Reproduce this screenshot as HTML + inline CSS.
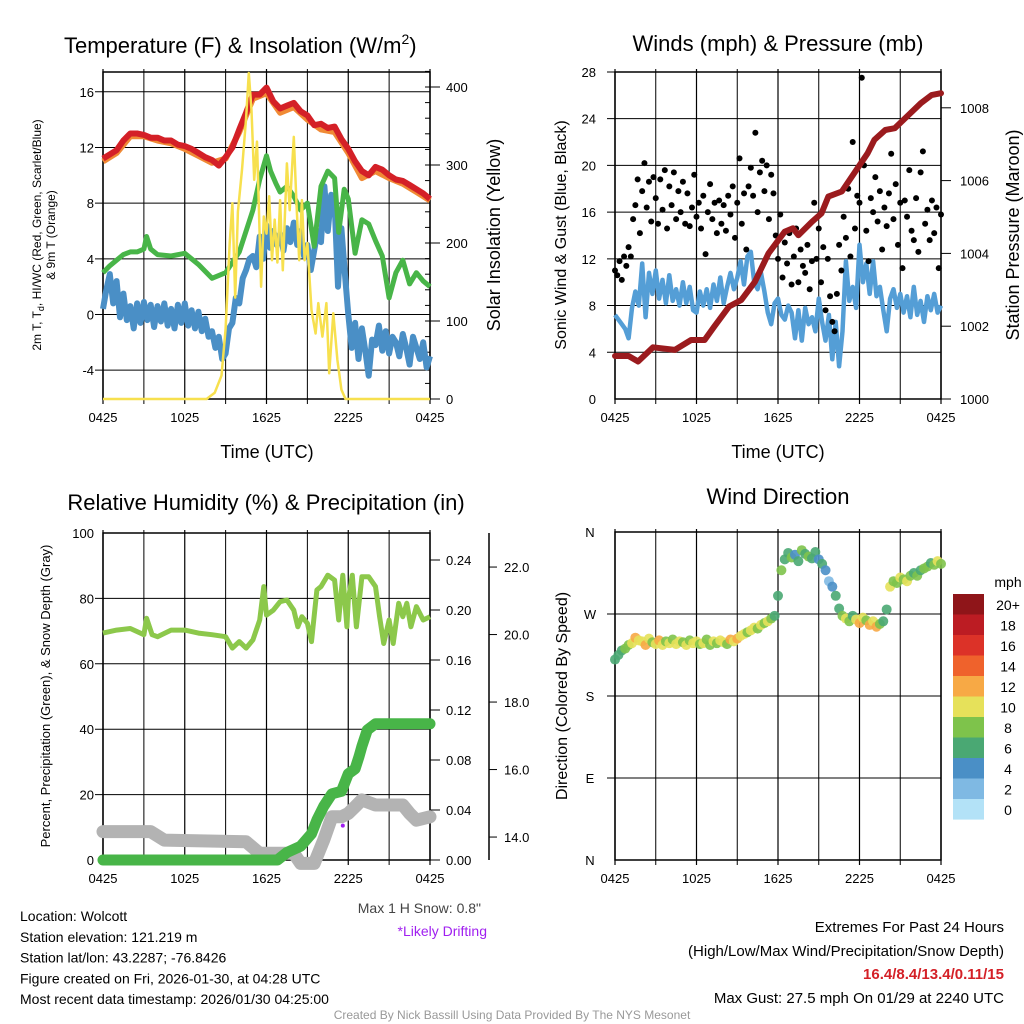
<!DOCTYPE html>
<html><head><meta charset="utf-8"><style>
html,body{margin:0;padding:0;background:#fff;}
svg{display:block;font-family:"Liberation Sans",sans-serif;}
</style></head><body>
<svg id="chart" width="1024" height="1024" viewBox="0 0 1024 1024" xmlns="http://www.w3.org/2000/svg"></svg>
<script>
// ---------- DATA ----------
const tempRed = [11.2,11.5,11.8,12.5,13.0,13.0,12.9,12.7,12.7,12.5,12.5,12.2,12.1,11.9,11.6,11.3,11.1,10.7,11.3,12.0,13.3,14.5,15.8,15.8,16.3,15.3,14.8,15.0,15.2,14.6,14.3,13.6,13.7,13.4,13.5,12.6,11.9,11.0,10.3,10.0,10.6,10.4,10.0,9.7,9.6,9.3,9.0,8.7,8.3];
const tempOrange = [11.0,11.6,12.8,12.8,12.5,12.3,11.9,11.4,10.9,11.2,13.1,15.5,15.9,14.5,14.9,14.0,13.3,13.1,11.6,9.8,10.3,9.8,9.4,8.8,8.2];
const greenT = [0,0.5,1,1.5,2,2.5,3,3.2,3.5,4,5,6,7,8,9,10,11,11.5,12,12.3,12.7,13,13.5,14,14.5,15,15.5,16,16.5,17,17.3,17.7,18,18.5,19,19.5,20,20.5,21,21.5,22,22.5,23,23.5,24];
const greenV = [3.0,3.5,3.9,4.3,4.5,4.5,4.7,5.6,4.7,4.3,4.2,4.4,3.6,2.6,3.0,4.5,7.5,9.7,11.4,10.3,9.4,8.8,9.2,8.5,7.5,8.0,4.9,9.2,10.3,9.8,5.9,9.0,8.3,4.4,6.8,6.5,5.3,4.2,1.2,3.0,3.9,2.2,3.0,2.4,2.0];
const blueV = [0.4,1.8,2.9,0.8,2.4,-0.2,1.5,-0.4,0.6,-1.0,0.8,-0.6,0.9,-0.4,0.7,-0.9,0.6,-0.5,0.8,-0.8,0.4,-1.0,0.7,-0.6,0.8,-0.8,0.3,-1.0,0.2,-1.2,-0.3,-1.6,-1.2,-2.4,-1.6,-3.2,-2.8,-1.0,-0.6,1.2,0.8,2.6,3.2,4.0,4.2,3.4,5.6,4.0,6.4,4.8,6.0,5.0,5.8,4.6,6.2,5.2,6.6,5.0,6.0,4.2,5.0,3.2,4.6,6.0,5.2,9.2,6.0,8.6,8.0,2.0,6.2,3.0,0.0,-2.4,-0.6,-3.2,-1.0,-2.6,-4.4,-1.8,-2.2,-0.8,-2.6,-1.2,-2.8,-1.6,-2.0,-3.0,-1.4,-2.4,-3.6,-1.6,-2.4,-3.2,-2.0,-3.8,-3.0];
const solarT = [0,7.6,8.2,8.7,9.0,9.3,9.5,9.7,9.9,10.2,10.5,10.7,10.9,11.1,11.3,11.6,11.8,12.0,12.2,12.4,12.6,12.8,13.0,13.2,13.5,13.7,14.0,14.2,14.4,14.6,14.8,15.0,15.3,15.6,15.8,16.1,16.4,16.6,16.9,17.2,17.5,17.8,24];
const solarV = [0,0,8,30,90,200,251,130,240,294,360,418,370,281,330,144,234,212,260,178,230,175,255,165,302,242,336,250,178,255,178,200,114,84,123,80,123,33,110,50,12,0,0];
const windV = [7.2,6.8,6.4,6.0,5.2,7.8,9.2,8.0,11.6,7.0,10.8,9.0,11.0,8.6,10.2,8.2,10.6,8.4,9.4,8.0,10.0,8.2,9.6,7.6,7.4,9.2,8.0,9.4,7.8,9.8,8.4,10.4,8.2,9.6,10.8,9.4,10.4,11.8,9.8,12.2,12.6,10.0,9.4,10.8,9.2,7.4,6.4,8.2,8.6,7.2,6.8,8.0,7.4,5.2,7.6,5.0,7.8,6.4,7.0,5.8,8.6,6.6,5.0,7.2,3.4,6.6,2.8,5.8,11.8,8.4,9.6,7.8,13.2,10.0,11.6,9.0,11.8,8.8,9.6,7.6,5.8,8.6,9.4,7.8,9.0,7.4,8.8,7.0,9.6,7.2,8.4,6.6,8.8,7.6,9.0,7.4,8.0];
const gustV = [11.0,10.6,11.8,10.2,12.2,11.4,13.0,12.2,15.4,16.6,18.8,14.2,17.8,20.2,16.4,18.6,15.2,19.0,17.2,15.0,18.8,16.2,19.6,14.6,18.2,16.6,19.4,15.4,17.8,16.0,18.6,15.0,17.6,14.8,16.4,19.2,15.6,16.8,14.6,17.4,12.4,16.0,18.4,15.4,16.8,14.2,17.0,15.0,16.6,14.4,17.4,15.8,18.2,13.8,16.8,20.6,15.0,17.6,12.8,18.2,19.8,17.4,22.8,16.0,19.4,20.4,17.8,20.0,15.4,19.2,17.6,14.0,12.0,15.8,10.4,13.4,11.6,14.2,9.8,12.2,14.6,10.0,12.8,11.4,10.8,13.2,9.4,11.8,16.8,12.0,14.6,10.0,13.0,7.6,12.0,8.8,6.6,5.8,9.0,13.2,11.0,15.6,13.8,18.0,12.2,22.0,14.6,17.4,16.8,27.5,20.0,14.4,11.8,17.2,16.0,19.0,15.2,17.8,12.8,16.4,14.8,17.6,21.0,15.4,18.4,13.2,16.8,11.2,17.0,15.6,19.6,14.4,13.6,17.2,12.6,19.4,21.2,15.0,16.2,13.6,17.0,14.2,16.4,11.2,15.8];
const pressT = [0,1.0,1.7,2.8,4.4,5.6,6.6,7.3,8.4,9.3,10.3,11.3,12.5,13.1,13.5,14.5,15.2,15.7,16.7,17.6,18.6,19.1,19.9,20.6,21.6,22.5,23.3,24];
const pressV = [1001.18,1001.18,1001.03,1001.42,1001.35,1001.62,1001.62,1001.99,1002.54,1002.72,1003.22,1004.0,1004.6,1004.69,1004.5,1004.87,1005.1,1005.56,1005.7,1006.2,1006.75,1007.12,1007.39,1007.44,1007.8,1008.12,1008.35,1008.4];
const rhT = [0,1,2,3,3.2,3.6,4,5,6,7,8,9,9.5,10,10.5,11,11.5,11.8,12,12.5,13,13.5,14,14.3,14.6,15,15.3,15.7,16,16.5,17,17.3,17.6,17.9,18,18.3,18.6,19,19.5,20,20.3,20.6,21,21.3,21.7,22,22.3,22.6,23,23.5,24];
const rhV = [69.4,70.3,70.8,68.9,73.9,68.9,68.3,70.3,70.3,69.4,68.9,68.3,64.8,66.8,64.8,67.3,73.4,83.6,74.9,76.4,79.0,79.5,76.4,71.3,74.4,72.4,66.8,82.6,83.6,87.1,85.6,73.4,87.1,71.3,79.5,87.1,71.3,86.6,86.6,83.6,74.4,66.2,73.4,66.2,78.5,74.4,78.5,71.3,77.5,73.4,74.4];
const precipT = [0,12.8,13.5,14.5,15.3,15.7,16.2,16.8,17.5,18.0,18.5,18.8,19.0,19.4,20.0,24];
const precipV = [0,0,0.006,0.011,0.021,0.032,0.043,0.053,0.055,0.069,0.073,0.083,0.091,0.104,0.109,0.109];
const snowT = [0,3.5,4.5,10.5,11.5,14.0,14.5,15.5,16.2,16.8,17.5,18.0,18.5,19.0,20.0,22.0,22.5,23.0,24];
const snowV = [14.16,14.16,13.91,13.86,13.52,13.52,13.22,13.22,13.91,14.6,14.6,14.7,14.9,15.1,14.95,14.95,14.7,14.5,14.6];
const driftT = [17.6];
const driftV = [14.34];
const dirV = [220,225,230,232,236,238,244,241,240,236,243,239,237,241,236,240,238,242,237,240,239,236,241,238,240,237,238,242,236,240,238,241,239,237,242,240,243,246,248,250,252,255,254,258,260,262,265,268,290,318,330,337,332,335,328,340,336,333,331,338,330,325,318,306,300,290,276,268,265,262,268,264,260,266,263,258,262,256,259,262,275,300,306,304,310,308,306,312,315,312,318,320,322,326,324,328,325];
const dirSpd = [7,7,7.5,8,9,10.5,12.5,11,10.5,12.6,10.5,9,11,12.5,10.8,9.5,10.5,8.5,11,10.3,9.2,10.5,8.6,10.2,11,8.8,10.4,9,8.6,10.8,9.4,11.2,10.5,9,12.5,11,12.6,10.5,11,9,10.4,11,9.5,10.6,8.5,10.2,9,6.8,7,8.5,6.5,7.2,8.6,5.5,6.8,8.4,7.2,9,6.6,7.5,5,6.8,5.5,3.5,4.8,7,6.5,8.5,10.5,9,7.5,10.8,12.5,11,8.5,12.4,10,12.6,9,7,6.5,10.5,8.5,9,11,9,10.5,8.5,7,8.8,6.5,9.5,8.5,7.5,9,11,8.5];
const xTickLabels = ["0425","1025","1625","2225","0425"];
const tempTicks = [16,12,8,4,0,-4];
const solarTicks = [0,100,200,300,400];
const windTicks = [0,4,8,12,16,20,24,28];
const pressTicks = [1000,1002,1004,1006,1008];
const rhTicks = [0,20,40,60,80,100];
const precipTicks = [0.00,0.04,0.08,0.12,0.16,0.20,0.24];
const snowTicks = [14,16,18,20,22];
const dirTicks = [0,90,180,270,360];
const dirLabels = ["N","E","S","W","N"];
const cbLabels = ["20+","18","16","14","12","10","8","6","4","2","0"];
const cbColors = ["#8f1519","#bc1c23","#dc3228","#ef622c","#f7a945","#e6e15a","#7ec34b","#4aa873","#4a8fc6","#7fb9e3","#b3e2f7"];

// ---------- HELPERS ----------
const NS="http://www.w3.org/2000/svg";
const svg=document.getElementById('chart');
function el(tag,attrs,parent){const e=document.createElementNS(NS,tag);for(const k in attrs)e.setAttribute(k,attrs[k]);(parent||svg).appendChild(e);return e;}
function txt(s,x,y,size,anchor,fill,extra){const t=el('text',Object.assign({x:x,y:y,'font-size':size,'text-anchor':anchor||'start',fill:fill||'#000'},extra||{}));t.textContent=s;return t;}
function grp(name){const g=el('g',{});return g;}
function pathFrom(ts,vs,fx,fy){return ts.map((t,i)=>(i?'L':'M')+fx(t).toFixed(1)+','+fy(vs[i]).toFixed(1)).join('');}
function spdColor(s){let i=Math.min(10,Math.floor(s/2));return cbColors[10-i];}

function frame(P,name){
  const g=grp(name+'-frame');
  for(let h=0;h<=24;h+=3){const x=P.x(h);const l=el('line',{x1:x,x2:x,y1:P.y0-3,y2:P.y1+5,stroke:'#000','stroke-width':(h%6?1:1.2)},g);}
  xTickLabels.forEach((s,i)=>{const t=txt(s,P.x(i*6),P.y1+23,13,'middle','#000',{},g);});
  const r=el('rect',{x:P.x0,y:P.y0,width:P.x1-P.x0,height:P.y1-P.y0,fill:'none',stroke:'#000','stroke-width':1.5},g);
  
  return g;
}
function hgrid(P,vals,fy,g,x0ext){vals.forEach(v=>{const y=fy(v);const l=el('line',{x1:P.x0-(x0ext||8),x2:P.x1,y1:y,y2:y,stroke:'#000','stroke-width':1},g);});}

// ---------- PANEL 1 ----------
const P1={x0:103,x1:430,y0:72,y1:399};P1.x=h=>P1.x0+h/24*(P1.x1-P1.x0);
const t1y=v=>314.5-v*13.92; const s1y=w=>399-w*0.78;
const g1=frame(P1,'temperature-panel');
hgrid(P1,tempTicks,t1y,g1);
tempTicks.forEach(v=>{const t=txt(String(v),94,t1y(v)+5,13,'end');});
solarTicks.forEach(v=>{const y=s1y(v);const l=el('line',{x1:P1.x1,x2:P1.x1+10,y1:y,y2:y,stroke:'#000'});const t=txt(String(v),446,y+5,13,'start');});
for(let w=20;w<424;w+=20){const y=s1y(w);const l=el('line',{x1:P1.x1-5,x2:P1.x1,y1:y,y2:y,stroke:'#000'});}
const q=i=>i*0.25, hh=i=>i*0.5, hr=i=>i;
let p=el('path',{d:pathFrom(blueV.map((v,i)=>q(i)),blueV,P1.x,t1y),fill:'none',stroke:'#4a8fc6','stroke-width':6,'stroke-linejoin':'round'});

p=el('path',{d:pathFrom(greenT,greenV,P1.x,t1y),fill:'none',stroke:'#48b548','stroke-width':5,'stroke-linejoin':'round'});

p=el('path',{d:pathFrom(tempOrange.map((v,i)=>hr(i)),tempOrange,P1.x,t1y),fill:'none',stroke:'#f08a35','stroke-width':6,'stroke-linejoin':'round'});

p=el('path',{d:pathFrom(tempRed.map((v,i)=>hh(i)),tempRed,P1.x,t1y),fill:'none',stroke:'#d42027','stroke-width':6,'stroke-linejoin':'round'});

p=el('path',{d:pathFrom(solarT,solarV,P1.x,s1y),fill:'none',stroke:'#f7e04e','stroke-width':2.5,'stroke-linejoin':'round'});

let t=txt('Temperature (F) & Insolation (W/m',64,53,22,'start');
const sup=el('tspan',{'font-size':14,dy:-9},t);sup.textContent='2';const cl=el('tspan',{dy:9},t);cl.textContent=')';
t=txt('Time (UTC)',267,458,18,'middle');
t=txt('2m T, T',0,0,12,'middle','#000',{transform:'translate(41,235) rotate(-90)'});
const sub=el('tspan',{'font-size':9,dy:3},t);sub.textContent='d';const rest=el('tspan',{dy:-3},t);rest.textContent=', HI/WC (Red, Green, Scarlet/Blue)';
t=txt('& 9m T (Orange)',0,0,12,'middle','#000',{transform:'translate(55,235) rotate(-90)'});
t=txt('Solar Insolation (Yellow)',0,0,18,'middle','#000',{transform:'translate(500,235) rotate(-90)'});

// ---------- PANEL 2 ----------
const P2={x0:615,x1:941,y0:72,y1:399};P2.x=h=>P2.x0+h/24*(P2.x1-P2.x0);
const w2y=v=>399-v*11.68; const p2y=v=>399-(v-1000)*36.4;
const g2=frame(P2,'winds-panel');
hgrid(P2,windTicks.slice(1),w2y,g2);
windTicks.forEach(v=>{const t=txt(String(v),596,w2y(v)+5,13,'end');});
pressTicks.forEach(v=>{const y=p2y(v);const l=el('line',{x1:P2.x1,x2:P2.x1+10,y1:y,y2:y,stroke:'#000'});const t=txt(String(v),960,y+5,13,'start');});
p=el('path',{d:pathFrom(windV.map((v,i)=>q(i)),windV,P2.x,w2y),fill:'none',stroke:'#549ed6','stroke-width':4.5,'stroke-linejoin':'round'});

const gg=grp('gust-points');
gustV.forEach((v,i)=>{const c=el('circle',{cx:P2.x(i/6),cy:w2y(v),r:3,fill:'#000'},gg);});
p=el('path',{d:pathFrom(pressT,pressV,P2.x,p2y),fill:'none',stroke:'#9b1b1e','stroke-width':6,'stroke-linejoin':'round','stroke-linecap':'round'});

t=txt('Winds (mph) & Pressure (mb)',778,51,22,'middle');
t=txt('Time (UTC)',778,458,18,'middle');
t=txt('Sonic Wind & Gust (Blue, Black)',0,0,16,'middle','#000',{transform:'translate(566,235) rotate(-90)'});
t=txt('Station Pressure (Maroon)',0,0,18,'middle','#000',{transform:'translate(1019,235) rotate(-90)'});

// ---------- PANEL 3 ----------
const P3={x0:103,x1:430,y0:533,y1:860};P3.x=h=>P3.x0+h/24*(P3.x1-P3.x0);
const r3y=v=>860-v*3.27; const pr3y=v=>860-v*1250; const sn3y=v=>860-(v-13.32)*33.75;
const g3=frame(P3,'humidity-panel');
hgrid(P3,rhTicks.slice(1,5),r3y,g3);
rhTicks.forEach(v=>{const t=txt(String(v),94,r3y(v)+5,13,'end');});
precipTicks.forEach(v=>{const y=pr3y(v);const l=el('line',{x1:P3.x1,x2:P3.x1+10,y1:y,y2:y,stroke:'#000'});const t=txt(v.toFixed(2),446,y+5,13,'start');});
let ax=el('line',{x1:489,x2:489,y1:533,y2:860,stroke:'#000','stroke-width':1.5});
snowTicks.forEach(v=>{const y=sn3y(v);const l=el('line',{x1:489,x2:497,y1:y,y2:y,stroke:'#000'});const t=txt(v.toFixed(1),504,y+5,13,'start');});
p=el('path',{d:pathFrom(rhT,rhV,P3.x,r3y),fill:'none',stroke:'#8cc84b','stroke-width':5,'stroke-linejoin':'round'});

p=el('path',{d:pathFrom(snowT,snowV,P3.x,sn3y),fill:'none',stroke:'#b3b3b3','stroke-width':13,'stroke-linejoin':'round','stroke-linecap':'round'});

p=el('path',{d:pathFrom(precipT,precipV,P3.x,pr3y),fill:'none',stroke:'#48b548','stroke-width':11,'stroke-linejoin':'round','stroke-linecap':'round'});

driftT.forEach((h,i)=>{const c=el('circle',{cx:P3.x(h),cy:sn3y(driftV[i]),r:2,fill:'#a020f0'});});
t=txt('Relative Humidity (%) & Precipitation (in)',266,510,22,'middle');
t=txt('Percent, Precipitation (Green), & Snow Depth (Gray)',0,0,13,'middle','#000',{transform:'translate(50,696) rotate(-90)'});
t=txt('Max 1 H Snow: 0.8"',481,913,14,'end','#444');
t=txt('*Likely Drifting',487,936,14,'end','#a020f0');

// ---------- PANEL 4 ----------
const P4={x0:615,x1:941,y0:532,y1:860};P4.x=h=>P4.x0+h/24*(P4.x1-P4.x0);
const d4y=d=>860-d*328/360;
const g4=frame(P4,'wind-direction-panel');
hgrid(P4,[90,180,270],d4y,g4);
dirTicks.forEach((d,i)=>{const t=txt(dirLabels[i],590,d4y(d)+5,13,'middle');});
const gd=grp('direction-points');
dirV.forEach((d,i)=>{const c=el('circle',{cx:P4.x(q(i)),cy:d4y(d),r:5,fill:spdColor(dirSpd[i]),'fill-opacity':0.9},gd);});
t=txt('Wind Direction',778,504,22,'middle');
t=txt('Direction (Colored By Speed)',0,0,16,'middle','#000',{transform:'translate(567,696) rotate(-90)'});
const gc=grp('speed-colorbar');
cbColors.forEach((c,i)=>{const r=el('rect',{x:953,y:594+i*20.5,width:31,height:20.6,fill:c},gc);
 const tl=txt(cbLabels[i],1008,610+i*20.5,14,'middle','#000',{},gc);});
t=txt('mph',1008,587,14,'middle');

// ---------- FOOTER TEXT ----------
const info=["Location: Wolcott","Station elevation: 121.219 m","Station lat/lon: 43.2287; -76.8426","Figure created on Fri, 2026-01-30, at 04:28 UTC","Most recent data timestamp: 2026/01/30 04:25:00"];
info.forEach((s,i)=>{const t=txt(s,20,921+i*20.8,14,'start');});
t=txt('Extremes For Past 24 Hours',1004,932,15,'end');
t=txt('(High/Low/Max Wind/Precipitation/Snow Depth)',1004,956,15,'end');
t=txt('16.4/8.4/13.4/0.11/15',1004,979,15,'end','#d42027',{'font-weight':'bold'});
t=txt('Max Gust: 27.5 mph On 01/29 at 2240 UTC',1004,1003,15,'end');
t=txt('Created By Nick Bassill Using Data Provided By The NYS Mesonet',512,1019,12,'middle','#999');
</script>
</body></html>
